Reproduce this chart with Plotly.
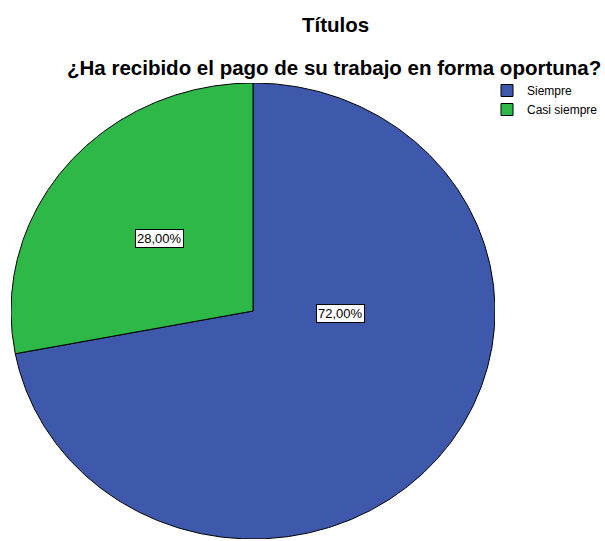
import numpy as np
import plotly.graph_objects as go

categories = ["Siempre", "Casi siempre"]
values = [72, 28]
colors = ["#3E58AC", "#2EB848"]
title_text = "Títulos"
subtitle_text = "¿Ha recibido el pago de su trabajo en forma oportuna?"

# label anchor positions (as fraction of radius, x right, y up) - styling
label_pos = [(0.36, -0.01), (-0.385, 0.32)]

W, H = 605, 541
FONT = "Liberation Sans, Arial"
total = sum(values)
fig = go.Figure()

start = 0.0
for i, (cat, v) in enumerate(zip(categories, values)):
    frac = v / total
    a0, a1 = start * 2 * np.pi, (start + frac) * 2 * np.pi
    t = np.linspace(a0, a1, 400)
    xs = np.concatenate([[0], np.sin(t), [0]])
    ys = np.concatenate([[0], np.cos(t), [0]])
    fig.add_trace(go.Scatter(
        x=xs, y=ys, mode="lines", fill="toself", fillcolor=colors[i],
        line=dict(color="black", width=1), name=cat, hoverinfo="name",
        showlegend=False, legendgroup=cat,
    ))
    txt = f"{frac*100:.2f}".replace(".", ",") + "%"
    lx, ly = label_pos[i]
    fig.add_annotation(x=lx, y=ly, text=txt, showarrow=False,
                       bgcolor="white", bordercolor="black", borderwidth=1,
                       borderpad=1, font=dict(family=FONT, size=13, color="black"))
    start += frac

# legend entries
for i, cat in enumerate(categories):
    fig.add_trace(go.Scatter(
        x=[None], y=[None], mode="markers", name=cat, legendgroup=cat,
        marker=dict(symbol="square", size=12, color=colors[i], line=dict(color="black", width=1)),
    ))

fig.update_layout(
    width=W, height=H, margin=dict(l=0, r=0, t=0, b=0, autoexpand=False),
    paper_bgcolor="white", plot_bgcolor="white",
    xaxis=dict(range=[-1, 1], domain=[11 / W, 495 / W], visible=False, fixedrange=True),
    yaxis=dict(range=[-1, 1], domain=[(H - 539) / H, (H - 83) / H], visible=False, fixedrange=True),
    showlegend=True,
    legend=dict(x=487 / W, y=1 - 76 / H, xanchor="left", yanchor="top",
                font=dict(family=FONT, size=12, color="black"),
                tracegroupgap=0, itemwidth=30, bgcolor="rgba(0,0,0,0)"),
    annotations=list(fig.layout.annotations) + [
        dict(x=335 / W, y=1 - 24 / H, xref="paper", yref="paper", yanchor="middle",
             text=f"<b>{title_text}</b>",
             showarrow=False, font=dict(family=FONT, size=20.5, color="black")),
        dict(x=334 / W, y=1 - 67 / H, xref="paper", yref="paper", yanchor="middle",
             text=f"<b>{subtitle_text}</b>",
             showarrow=False, font=dict(family=FONT, size=20.5, color="black")),
    ],
)

fig.write_html("out.html")
